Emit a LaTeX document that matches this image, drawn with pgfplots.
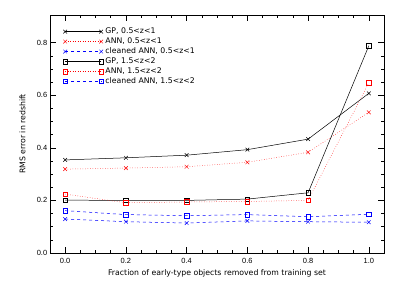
\documentclass[border=0pt]{standalone}
\usepackage{pgfplots}
\pgfplotsset{compat=1.18}
\usepackage{fontspec}
\setmainfont{DejaVu Sans}
\newfontfamily\tickfont{Liberation Sans}
\begin{document}
\fontsize{7.8}{9}\selectfont
\begin{tikzpicture}
\begin{axis}[
  scale only axis,
  width=334bp, height=238bp,
  xmin=-0.05, xmax=1.05, ymin=0, ymax=0.905,
  xtick={0,0.2,0.4,0.6,0.8,1.0},
  ytick={0,0.2,0.4,0.6,0.8},
  minor x tick num=3, minor y tick num=3,
  xticklabel style={/pgf/number format/.cd,fixed,fixed zerofill,precision=1},
  yticklabel style={/pgf/number format/.cd,fixed,fixed zerofill,precision=1},
  /pgf/number format/assume math mode=true,
  tick label style={font=\tickfont\fontsize{7.5}{9}\selectfont},
  tick align=inside,
  major tick length=6bp, minor tick length=3bp,
  tick style={black, line width=0.5pt},
  axis line style={line width=0.6pt},
  xticklabel shift=2bp,
  xlabel={Fraction of early-type objects removed from training set},
  ylabel={RMS error in redshift},
  xlabel style={yshift=-1bp},
  ylabel style={yshift=6bp},
  legend style={draw=none, fill=none, at={(0.035,0.958)}, anchor=north west,
    font=\fontsize{7.8}{9}\selectfont, row sep=-1bp, inner sep=1bp},
  legend cell align=left,
  legend image code/.code={\draw[#1] plot coordinates {(0bp,0bp) (36bp,0bp)};},
  every axis plot/.append style={line width=0.5pt},
]
\addplot[black, solid, mark=x, mark size=2.6pt, mark options={solid}] coordinates {
(0.0,0.354) (0.2,0.362) (0.4,0.372) (0.6,0.393) (0.8,0.433) (1.0,0.607)};
\addlegendentry{GP, 0.5<z<1}
\addplot[red, dotted, mark=x, mark size=2.6pt, mark options={solid}] coordinates {
(0.0,0.319) (0.2,0.323) (0.4,0.328) (0.6,0.345) (0.8,0.383) (1.0,0.535)};
\addlegendentry{ANN, 0.5<z<1}
\addplot[blue, dashed, mark=x, mark size=2.6pt, mark options={solid}] coordinates {
(0.0,0.129) (0.2,0.119) (0.4,0.114) (0.6,0.122) (0.8,0.119) (1.0,0.117)};
\addlegendentry{cleaned ANN, 0.5<z<1}
\addplot[black, solid, mark=square, mark size=2.3pt, mark options={solid}] coordinates {
(0.0,0.201) (0.2,0.200) (0.4,0.200) (0.6,0.205) (0.8,0.229) (1.0,0.788)};
\addlegendentry{GP, 1.5<z<2}
\addplot[red, dotted, mark=square, mark size=2.3pt, mark options={solid}] coordinates {
(0.0,0.224) (0.2,0.191) (0.4,0.194) (0.6,0.196) (0.8,0.200) (1.0,0.647)};
\addlegendentry{ANN, 1.5<z<2}
\addplot[blue, dashed, mark=square, mark size=2.3pt, mark options={solid}] coordinates {
(0.0,0.161) (0.2,0.146) (0.4,0.142) (0.6,0.146) (0.8,0.138) (1.0,0.147)};
\addlegendentry{cleaned ANN, 1.5<z<2}
\end{axis}
\path (current axis.south west) +(-50bp,-32bp);
\path (current axis.north east) +(15bp,15bp);
\end{tikzpicture}
\end{document}
